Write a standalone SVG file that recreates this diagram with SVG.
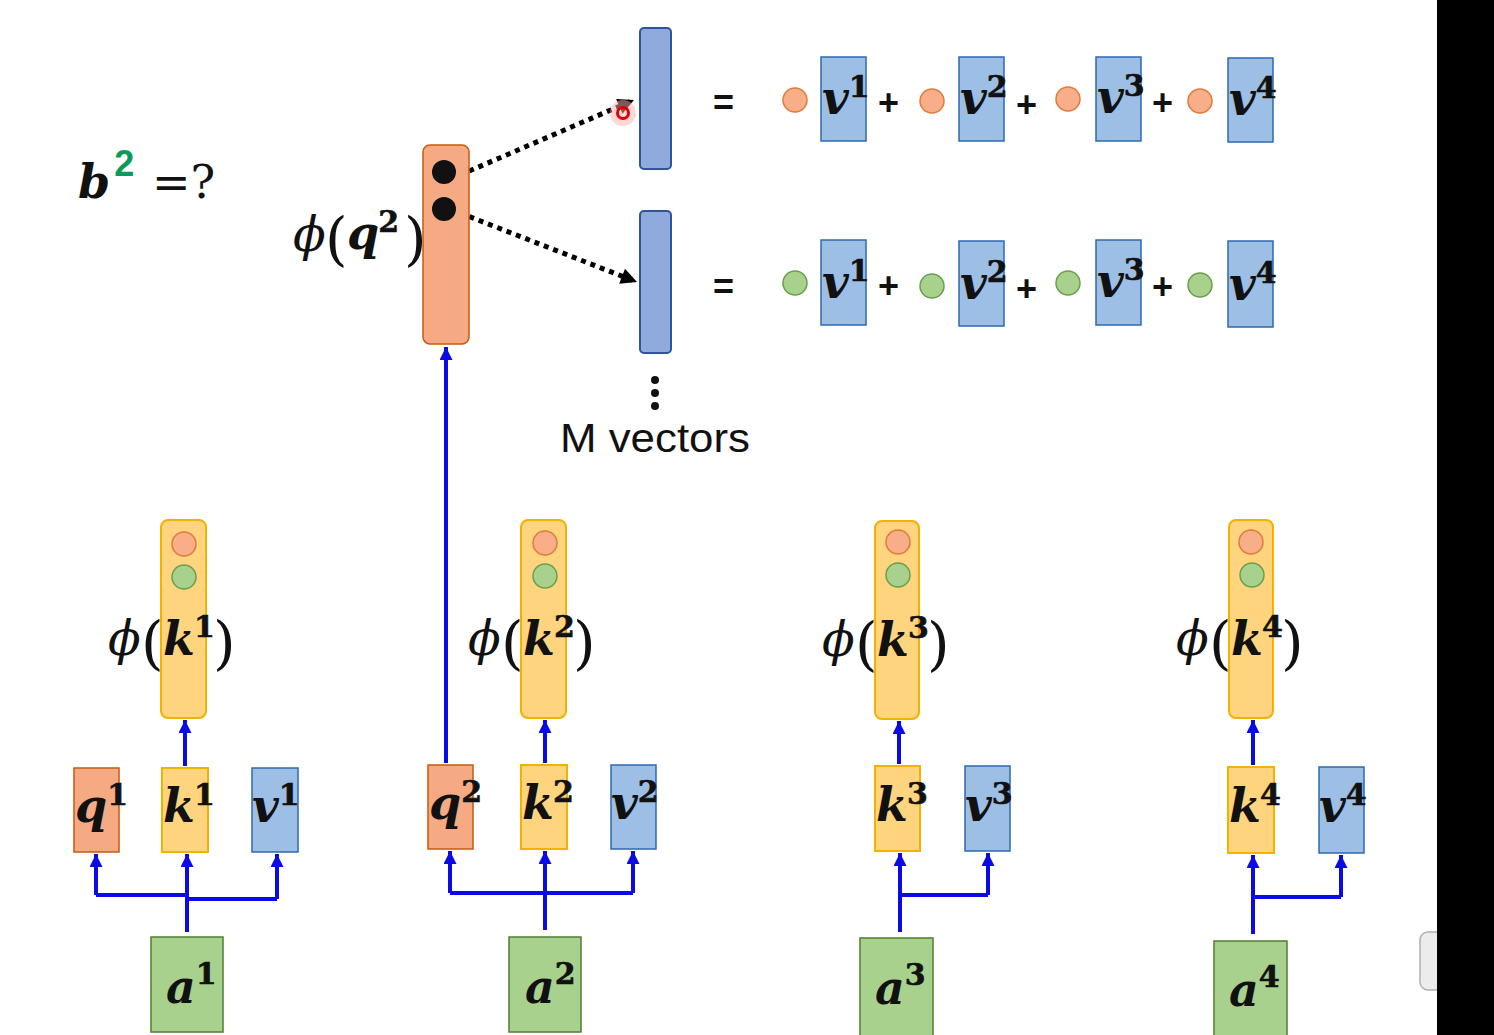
<svg xmlns="http://www.w3.org/2000/svg" width="1494" height="1035" viewBox="0 0 1494 1035">
<style>
.m{font-family:"DejaVu Serif",serif;font-style:italic;font-weight:bold;font-size:46px;fill:#111}
.s{font-family:"DejaVu Serif",serif;font-style:normal;font-weight:900;font-size:30px;stroke:#111;stroke-width:0.6}
.phi{font-family:"DejaVu Serif",serif;font-style:italic;font-weight:normal;font-size:48px;fill:#111}
.par{font-family:"DejaVu Serif",serif;font-style:normal;font-weight:normal;font-size:58px;fill:#111}
.ob{fill:#F6AA84;stroke:#C55A11;stroke-width:1.5}
.yb{fill:#FFD47E;stroke:#F2B300;stroke-width:2}
.bb{fill:#9DBFE6;stroke:#2E69B0;stroke-width:1.5}
.tb{fill:#8FAADC;stroke:#2F5597;stroke-width:2}
.gb{fill:#A9D18E;stroke:#507E32;stroke-width:1.5}
.oc{fill:#F8AE88;stroke:#E07B39;stroke-width:1.5}
.gc{fill:#A9D18E;stroke:#6A9E4A;stroke-width:1.5}
.eq{font-family:"Liberation Sans",sans-serif;font-weight:bold;font-size:36px;fill:#111}
.c{fill:none;stroke:#0A0AE6;stroke-width:4}
.d{fill:none;stroke:#000;stroke-width:5;stroke-dasharray:5 5}
</style>
<defs>
<marker id="ab" viewBox="0 0 10 10" refX="10" refY="5" markerUnits="userSpaceOnUse" markerWidth="13" markerHeight="13" orient="auto"><path d="M0,0 L10,5 L0,10 z" fill="#0A0AE6"/></marker>
<marker id="ak" viewBox="0 0 10 10" refX="10" refY="5" markerUnits="userSpaceOnUse" markerWidth="18" markerHeight="16" orient="auto"><path d="M0,0 L10,5 L0,10 z" fill="#000"/></marker>
</defs>
<rect width="1494" height="1035" fill="#fff"/>

<g id="title">
<text class="m" x="78" y="198" font-size="52">b<tspan style="font-family:'Liberation Sans',sans-serif;font-style:normal;font-weight:bold;font-size:36px" fill="#0A9A5A" dx="4" dy="-22">2</tspan></text>
<text x="152" y="198" style="font-family:'DejaVu Serif',serif;font-size:46px" fill="#111">=?</text>
</g>

<g id="connectors">
<path class="d" d="M460,175 L634,100" marker-end="url(#ak)"/>
<path class="d" d="M460,213 L637,282" marker-end="url(#ak)"/>
<path class="c" d="M187,932 V854" marker-end="url(#ab)"/>
<path class="c" d="M96,895 H187 M187,899 H277"/>
<path class="c" d="M96,895 V854" marker-end="url(#ab)"/>
<path class="c" d="M277,899 V854" marker-end="url(#ab)"/>
<path class="c" d="M185,766 V720" marker-end="url(#ab)"/>
<path class="c" d="M545,930 V851" marker-end="url(#ab)"/>
<path class="c" d="M450,893 H633"/>
<path class="c" d="M450,893 V851" marker-end="url(#ab)"/>
<path class="c" d="M633,893 V851" marker-end="url(#ab)"/>
<path class="c" d="M545,763 V720" marker-end="url(#ab)"/>
<path class="c" d="M446,763 V347" marker-end="url(#ab)"/>
<path class="c" d="M900,932 V853" marker-end="url(#ab)"/>
<path class="c" d="M900,895 H988"/>
<path class="c" d="M988,895 V853" marker-end="url(#ab)"/>
<path class="c" d="M899,764 V721" marker-end="url(#ab)"/>
<path class="c" d="M1253,934 V855" marker-end="url(#ab)"/>
<path class="c" d="M1253,897 H1341"/>
<path class="c" d="M1341,897 V855" marker-end="url(#ab)"/>
<path class="c" d="M1253,765 V720" marker-end="url(#ab)"/>
</g>

<g id="phi-q2">
<rect class="ob" x="423" y="145" width="46" height="199" rx="7" fill="#F9B18D"/>
<circle cx="444" cy="172" r="12" fill="#111"/>
<circle cx="444" cy="209" r="12" fill="#111"/>
<text class="phi" x="293" y="251">ϕ</text>
<text class="par" x="325" y="259">(</text>
<text class="m" x="347" y="249">q<tspan class="s" dx="-1" dy="-17">2</tspan></text>
<text class="par" x="404" y="259">)</text>
</g>

<g id="vec1"><rect class="tb" x="640" y="28" width="31" height="141" rx="4"/></g>
<g id="vec2"><rect class="tb" x="640" y="211" width="31" height="142" rx="4"/></g>

<g id="pointer">
<circle cx="623" cy="113" r="13" fill="#FFB0B0" opacity="0.5"/>
<circle cx="623" cy="113" r="5.5" fill="none" stroke="#E00000" stroke-width="3"/>
</g>

<g id="mvectors">
<circle cx="655" cy="380" r="4" fill="#111"/>
<circle cx="655" cy="393" r="4" fill="#111"/>
<circle cx="655" cy="406" r="4" fill="#111"/>
<text x="560" y="452" style="font-family:'Liberation Sans',sans-serif;font-size:40px" fill="#111" textLength="190" lengthAdjust="spacingAndGlyphs">M vectors</text>
</g>

<g id="eq1">
<text class="eq" x="713" y="115">=</text>
<circle class="oc" cx="795" cy="100" r="12"/>
<rect class="bb" x="821" y="57" width="45" height="84"/>
<text class="m" x="822" y="114">v<tspan class="s" dx="0" dy="-17">1</tspan></text>
<text class="eq" x="878" y="115">+</text>
<circle class="oc" cx="932" cy="101" r="12"/>
<rect class="bb" x="959" y="57" width="45" height="84"/>
<text class="m" x="960" y="114">v<tspan class="s" dx="0" dy="-17">2</tspan></text>
<text class="eq" x="1016" y="117">+</text>
<circle class="oc" cx="1068" cy="99" r="12"/>
<rect class="bb" x="1096" y="57" width="45" height="84"/>
<text class="m" x="1097" y="113">v<tspan class="s" dx="0" dy="-17">3</tspan></text>
<text class="eq" x="1152" y="115">+</text>
<circle class="oc" cx="1200" cy="101" r="12"/>
<rect class="bb" x="1228" y="58" width="45" height="84"/>
<text class="m" x="1229" y="115">v<tspan class="s" dx="0" dy="-17">4</tspan></text>
</g>

<g id="eq2">
<text class="eq" x="713" y="299">=</text>
<circle class="gc" cx="795" cy="283" r="12"/>
<rect class="bb" x="821" y="240" width="45" height="85"/>
<text class="m" x="822" y="298">v<tspan class="s" dx="0" dy="-17">1</tspan></text>
<text class="eq" x="878" y="298">+</text>
<circle class="gc" cx="932" cy="286" r="12"/>
<rect class="bb" x="959" y="241" width="45" height="85"/>
<text class="m" x="960" y="299">v<tspan class="s" dx="0" dy="-17">2</tspan></text>
<text class="eq" x="1016" y="301">+</text>
<circle class="gc" cx="1068" cy="283" r="12"/>
<rect class="bb" x="1096" y="240" width="45" height="85"/>
<text class="m" x="1097" y="297">v<tspan class="s" dx="0" dy="-17">3</tspan></text>
<text class="eq" x="1152" y="299">+</text>
<circle class="gc" cx="1200" cy="285" r="12"/>
<rect class="bb" x="1228" y="241" width="45" height="86"/>
<text class="m" x="1229" y="300">v<tspan class="s" dx="0" dy="-17">4</tspan></text>
</g>

<g id="phi-k1">
<rect class="yb" x="161" y="520" width="45" height="198" rx="7"/>
<circle class="oc" cx="184" cy="544" r="12"/>
<circle class="gc" cx="184" cy="577" r="12"/>
<text class="phi" x="108" y="655">ϕ</text>
<text class="par" x="141" y="663">(</text>
<text class="m" x="163" y="655">k<tspan class="s" dx="-1" dy="-18">1</tspan></text>
<text class="par" x="213" y="663">)</text>
</g>
<g id="phi-k2">
<rect class="yb" x="521" y="520" width="45" height="198" rx="7"/>
<circle class="oc" cx="545" cy="543" r="12"/>
<circle class="gc" cx="545" cy="576" r="12"/>
<text class="phi" x="468" y="655">ϕ</text>
<text class="par" x="501" y="663">(</text>
<text class="m" x="523" y="655">k<tspan class="s" dx="-1" dy="-18">2</tspan></text>
<text class="par" x="573" y="663">)</text>
</g>
<g id="phi-k3">
<rect class="yb" x="875" y="521" width="44" height="198" rx="7"/>
<circle class="oc" cx="898" cy="542" r="12"/>
<circle class="gc" cx="898" cy="575" r="12"/>
<text class="phi" x="822" y="656">ϕ</text>
<text class="par" x="855" y="664">(</text>
<text class="m" x="877" y="656">k<tspan class="s" dx="-1" dy="-18">3</tspan></text>
<text class="par" x="927" y="664">)</text>
</g>
<g id="phi-k4">
<rect class="yb" x="1229" y="520" width="44" height="198" rx="7"/>
<circle class="oc" cx="1251" cy="542" r="12"/>
<circle class="gc" cx="1252" cy="575" r="12"/>
<text class="phi" x="1176" y="655">ϕ</text>
<text class="par" x="1209" y="663">(</text>
<text class="m" x="1231" y="655">k<tspan class="s" dx="-1" dy="-18">4</tspan></text>
<text class="par" x="1281" y="663">)</text>
</g>

<g id="q1"><rect class="ob" x="74" y="768" width="45" height="84"/><text class="m" x="75" y="822">q<tspan class="s" dx="0" dy="-17">1</tspan></text></g>
<g id="k1"><rect class="yb" x="162" y="768" width="46" height="84"/><text class="m" x="163" y="822">k<tspan class="s" dx="-1" dy="-17">1</tspan></text></g>
<g id="v1"><rect class="bb" x="252" y="768" width="46" height="84"/><text class="m" x="252" y="822">v<tspan class="s" dx="0" dy="-17">1</tspan></text></g>
<g id="a1"><rect class="gb" x="151" y="937" width="72" height="95"/><text class="m" x="166" y="1003">a<tspan class="s" dx="0" dy="-19">1</tspan></text></g>

<g id="q2"><rect class="ob" x="428" y="765" width="45" height="84"/><text class="m" x="429" y="819">q<tspan class="s" dx="0" dy="-17">2</tspan></text></g>
<g id="k2"><rect class="yb" x="521" y="765" width="46" height="84"/><text class="m" x="522" y="819">k<tspan class="s" dx="-1" dy="-17">2</tspan></text></g>
<g id="v2"><rect class="bb" x="611" y="765" width="45" height="84"/><text class="m" x="611" y="819">v<tspan class="s" dx="0" dy="-17">2</tspan></text></g>
<g id="a2"><rect class="gb" x="509" y="937" width="72" height="95"/><text class="m" x="525" y="1003">a<tspan class="s" dx="0" dy="-19">2</tspan></text></g>

<g id="k3"><rect class="yb" x="875" y="766" width="45" height="85"/><text class="m" x="876" y="821">k<tspan class="s" dx="-1" dy="-17">3</tspan></text></g>
<g id="v3"><rect class="bb" x="965" y="766" width="45" height="85"/><text class="m" x="965" y="821">v<tspan class="s" dx="0" dy="-17">3</tspan></text></g>
<g id="a3"><rect class="gb" x="860" y="938" width="73" height="99"/><text class="m" x="875" y="1004">a<tspan class="s" dx="0" dy="-19">3</tspan></text></g>

<g id="k4"><rect class="yb" x="1228" y="767" width="46" height="86"/><text class="m" x="1229" y="822">k<tspan class="s" dx="-1" dy="-17">4</tspan></text></g>
<g id="v4"><rect class="bb" x="1319" y="767" width="45" height="86"/><text class="m" x="1319" y="822">v<tspan class="s" dx="0" dy="-17">4</tspan></text></g>
<g id="a4"><rect class="gb" x="1214" y="941" width="73" height="96"/><text class="m" x="1229" y="1006">a<tspan class="s" dx="0" dy="-19">4</tspan></text></g>

<g id="edge">
<rect x="1420" y="932" width="30" height="58" rx="8" fill="#ECECEC" stroke="#B0B0B0" stroke-width="1.5"/>
<rect x="1437" y="0" width="57" height="1035" fill="#000"/>
</g>
</svg>
